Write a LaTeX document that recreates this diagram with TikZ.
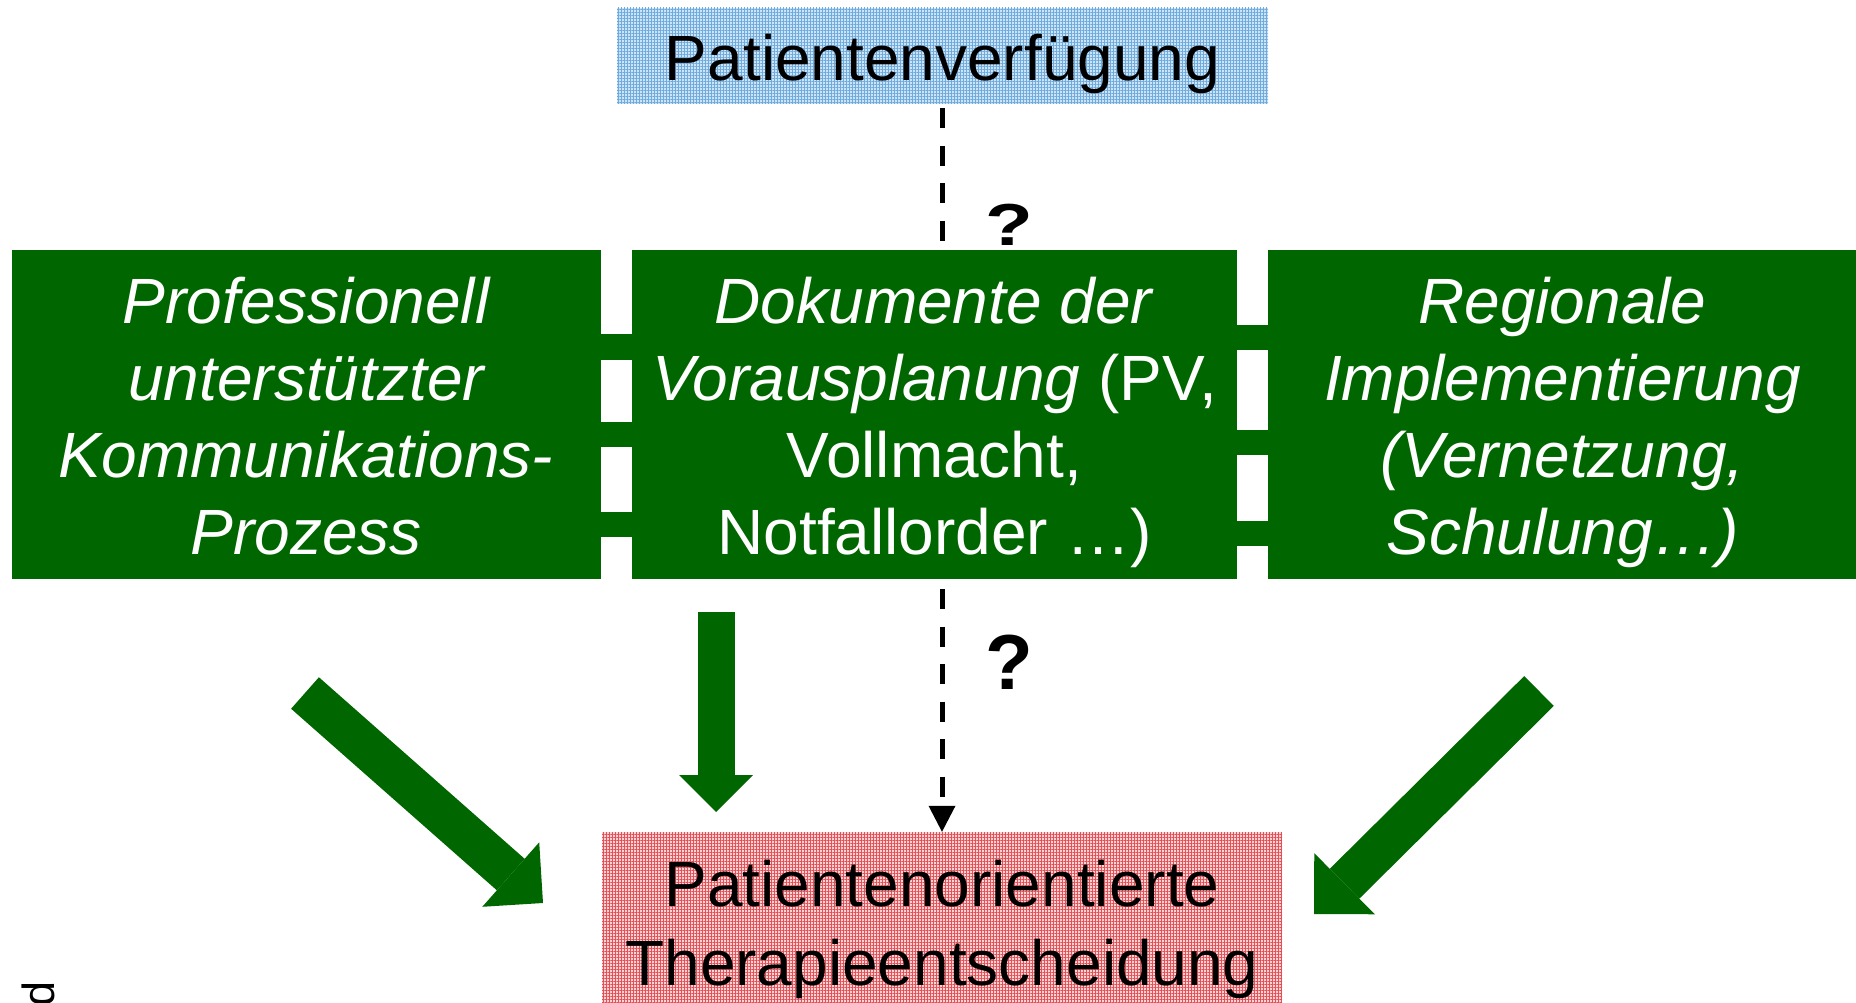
\documentclass[tikz,border=0pt]{standalone}
\usepackage{fontspec}
\setmainfont{Liberation Sans}
\usetikzlibrary{arrows.meta, patterns.meta, positioning}

\definecolor{boxgreen}{RGB}{0,102,0}
\definecolor{advfill}{RGB}{205,228,247}
\definecolor{advline}{RGB}{110,170,222}
\definecolor{decfill}{RGB}{252,212,212}
\definecolor{decline}{RGB}{228,80,88}

\newcommand{\upperstrut}{\rule{0pt}{64pt}}
\newcommand{\lowerstrut}[1]{\rule[-#1]{0pt}{#1}}

\begin{document}
\begin{tikzpicture}[
  x=1pt, y=-1pt,
  greenbox/.style={
    rectangle,
    fill=boxgreen,
    text=white,
    align=center,
    inner sep=0pt,
    minimum height=329pt,
    font=\fontsize{64}{77}\selectfont
  },
  itbox/.style={
    greenbox,
    font=\fontsize{64}{77}\selectfont\itshape
  },
  bluebox/.style={
    rectangle,
    preaction={fill=advfill},
    pattern={Hatch[angle=0,distance=3pt,line width=1pt]},
    pattern color=advline,
    inner sep=0pt,
    minimum width=651pt,
    minimum height=96pt,
    font=\fontsize{64}{77}\selectfont
  },
  redbox/.style={
    rectangle,
    preaction={fill=decfill},
    pattern={Hatch[angle=0,distance=3pt,line width=1pt]},
    pattern color=decline,
    align=center,
    inner sep=0pt,
    minimum width=680pt,
    minimum height=198pt,
    font=\fontsize{64}{79}\selectfont
  },
  link/.style={
    boxgreen,
    line width=25.5pt
  },
  dashline/.style={
    line width=5pt,
    dash pattern=on 20pt off 17.5pt
  },
  qmark/.style={
    anchor=base,
    inner sep=0pt,
    font=\bfseries\fontsize{78}{90}\selectfont
  }
]

\path[fill=white] (0,0) rectangle (1856,1003);
\useasboundingbox (0,0) rectangle (1856,1003);

% Nodes
\node[bluebox] (advdir) at (942.5,56) {\lowerstrut{15pt}\rule{0pt}{64pt}Patientenverfügung};
\node[greenbox, minimum width=605pt] (docs) at (934.5,414.5)
  {\upperstrut\textit{Dokumente der}\\\textit{Vorausplanung} (PV,\\Vollmacht,\\Notfallorder …)\lowerstrut{16pt}};
\node[itbox, minimum width=589pt, left=31pt of docs] (comm)
  {\upperstrut Professionell\\unterstützter\\Kommunikations-\\Prozess\lowerstrut{16pt}};
\node[itbox, minimum width=588pt, right=31pt of docs] (region)
  {\upperstrut Regionale\\Implementierung\\(Vernetzung,\\Schulung…)\lowerstrut{16pt}};
\node[redbox] (decision) at (942,931)
  {\upperstrut Patientenorientierte\\Therapieentscheidung\lowerstrut{35pt}};

\node[qmark] (q1) at (1009,246) {\scalebox{1}[0.76]{?}};
\node[qmark] (q2) at (1009,689) {?};

\node[font=\fontsize{45}{54}\selectfont, rotate=90, anchor=base west, inner sep=0pt] (mark) at (54,1007) {d};

% Links between the boxes
\foreach \dy in {67.5,-20,-110}
  \draw[link] ([yshift=\dy pt]comm.east) -- ([yshift=\dy pt]docs.west);
\foreach \dy in {77,-28,-119}
  \draw[link] ([yshift=\dy pt]docs.east) -- ([yshift=\dy pt]region.west);

% Arrows
\draw[dashline, dash phase=33.5pt] (decision.north |- advdir.south) -- (decision.north |- docs.north);
\draw[dashline, dash phase=27.5pt, -{Triangle[length=26pt, width=27pt, line width=0pt]}]
  (decision.north |- docs.south) -- (decision.north);

\coordinate (lt) at (305,693);
\coordinate (lh) at (543,903);
\coordinate (vt) at (716,612);
\coordinate (vh) at (716,812);
\coordinate (rt) at (1539,691);
\coordinate (rh) at (1314,914);

\draw[boxgreen, line width=42pt, -{Triangle[length=43pt, width=86pt, line width=0pt]}] (lt) -- (lh);
\draw[boxgreen, line width=37pt, -{Triangle[length=37pt, width=74pt, line width=0pt]}] (vt) -- (vh);
\draw[boxgreen, line width=42pt, -{Triangle[length=43pt, width=86pt, line width=0pt]}] (rt) -- (rh);

\end{tikzpicture}
\end{document}
